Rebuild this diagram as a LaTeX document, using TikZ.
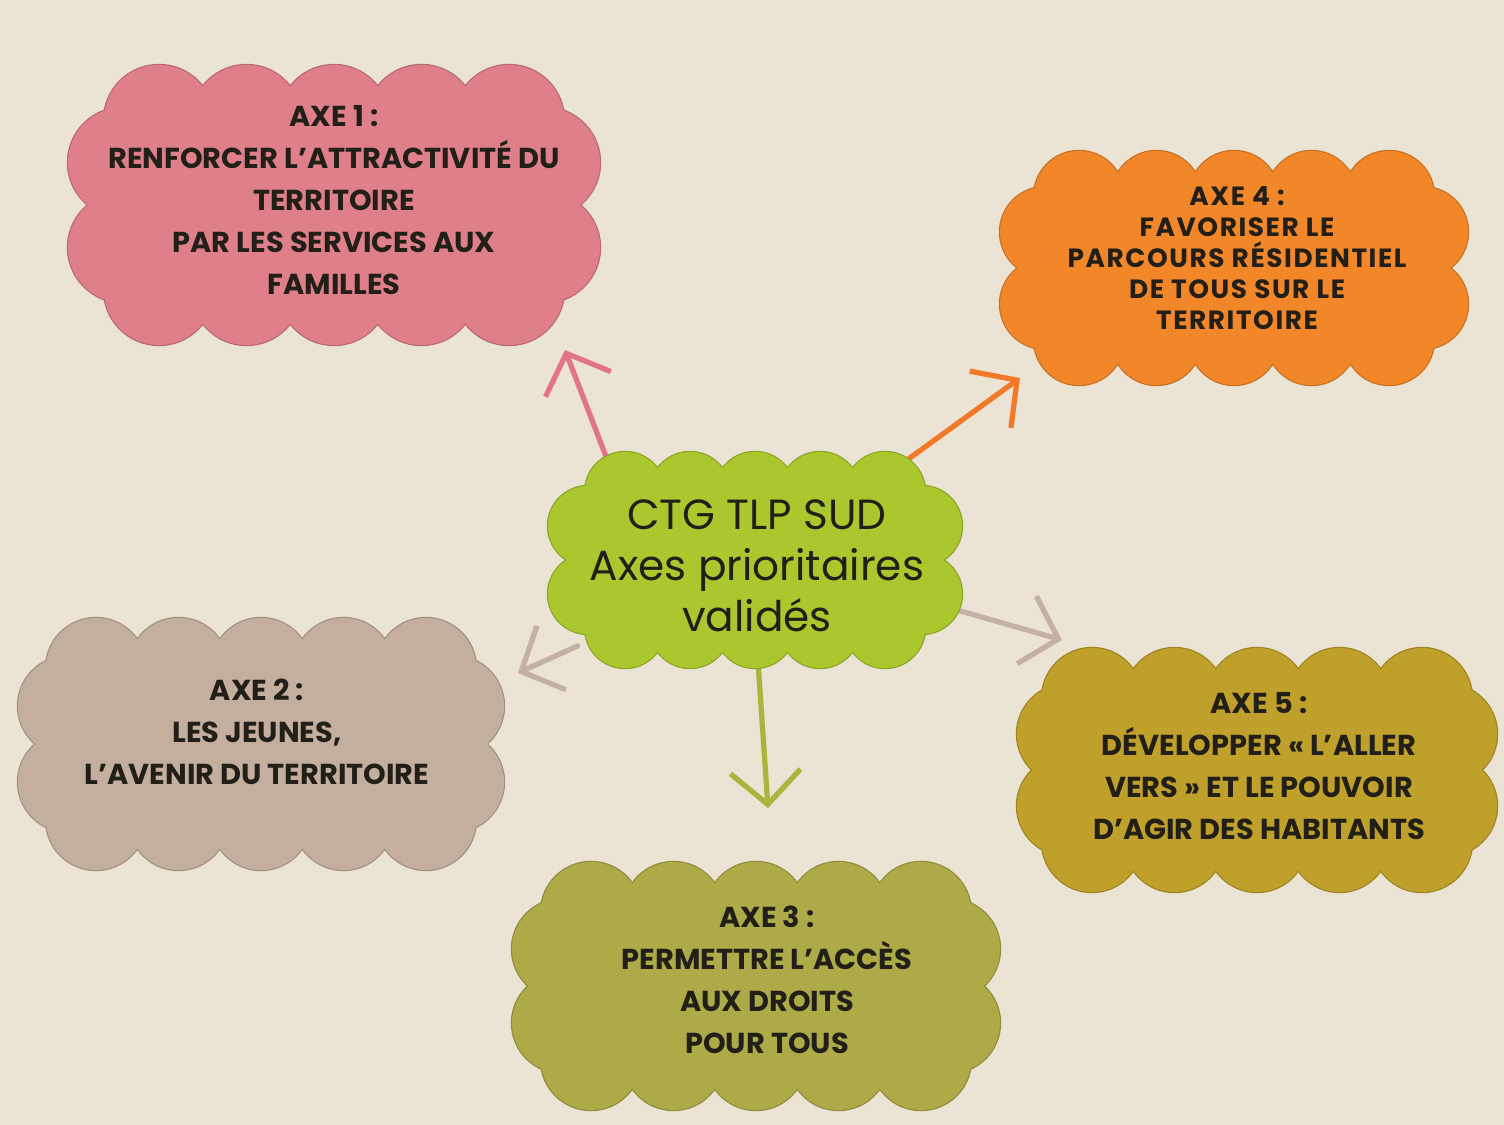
\documentclass[tikz,border=0pt]{standalone}
\usepackage{fontspec}
\newfontfamily\axefont{Poppins}
\newfontfamily\wideaxefont{Poppins}[LetterSpace=6]
\usetikzlibrary{arrows.meta}
\pgfdeclarelayer{back}
\pgfdeclarelayer{links}
\pgfsetlayers{back,links,main}
\definecolor{paper}{HTML}{EBE4D5}
\definecolor{ink}{HTML}{221E18}
\definecolor{rose}{HTML}{DF7F8A}
\definecolor{orangec}{HTML}{F2872A}
\definecolor{ctggreen}{HTML}{AAC82E}
\definecolor{taupec}{HTML}{C4AF9F}
\definecolor{moutarde}{HTML}{BFA02A}
\definecolor{olivec}{HTML}{ADAA48}

\begin{document}
\begin{tikzpicture}[x=0.01cm,y=-0.01cm,
	axe/.style={align=center,text=ink,font=\axefont\bfseries\fontsize{8.2}{11.9}\selectfont},
	link/.style={line width=1.5pt,line cap=round,-{Straight Barb[length=3.3mm,width=7mm]}}]
	\begin{pgfonlayer}{back}
		\fill[paper] (0,0) rectangle (1504,1125);
	\end{pgfonlayer}
	% clouds: centre, half widths, side offset, puff radius, colour
	\foreach \cx/\cy/\a/\b/\s/\r/\c in {334/205/175/85/211/55/rose,
		1234/268/155/72/189/45/orangec, 755/560/130/68/167/40/ctggreen,
		261/744/165/76/193/50/taupec, 1257/770/165/72/190/50/moutarde,
		756/986/165/74/194/50/olivec}
	\foreach \col/\dr in {\c!82!black/1.2,\c/0}{
		\fill[\col] (\cx-\a,\cy-\b) rectangle (\cx+\a,\cy+\b);
		\fill[\col] (\cx-\s,\cy-\b/2) rectangle (\cx+\s,\cy+\b/2);
		\foreach \i in {-2,...,2}
			\fill[\col] (\cx+\i*\a/2,\cy-\b) circle (\r+\dr) (\cx+\i*\a/2,\cy+\b) circle (\r+\dr);
		\foreach \j in {-1,1}
			\fill[\col] (\cx+\j*\s,\cy-\b/2) circle (\r+\dr) (\cx+\j*\s,\cy+\b/2) circle (\r+\dr);
	}
	\node[axe] (ax1) at (334,200) {AXE 1 :\\RENFORCER L’ATTRACTIVITÉ DU\\TERRITOIRE\\PAR LES SERVICES AUX\\FAMILLES};
	\node[axe,font=\wideaxefont\bfseries\fontsize{7.5}{8.8}\selectfont] (ax4) at (1237,258) {AXE 4 :\\FAVORISER LE\\PARCOURS RÉSIDENTIEL\\DE TOUS SUR LE\\TERRITOIRE};
	\node[minimum width=3.4cm,minimum height=1.6cm,align=center,text=ink,font=\axefont\fontsize{12}{14.5}\selectfont] (ctg) at (757,566) {CTG TLP SUD\\Axes prioritaires\\validés};
	\node[axe] (ax2) at (257,732) {AXE 2 :\\LES JEUNES,\\L’AVENIR DU TERRITOIRE};
	\node[axe] (ax5) at (1259,766) {AXE 5 :\\DÉVELOPPER « L’ALLER\\VERS » ET LE POUVOIR\\D’AGIR DES HABITANTS};
	\node[axe] (ax3) at (767,980) {AXE 3 :\\PERMETTRE L’ACCÈS\\AUX DROITS\\POUR TOUS};
	\coordinate (p1) at (565,350);
	\coordinate (p4) at (1020,378);
	\coordinate (p2) at (518,673);
	\coordinate (p5) at (1062,640);
	\coordinate (p3) at (768,808);
	\begin{pgfonlayer}{links}
		\draw[link,draw={rgb,255:red,226;green,116;blue,136}] (ctg.150) -- (p1);
		\draw[link,draw={rgb,255:red,240;green,122;blue,42}] (ctg.35) -- (p4);
		\draw[link,draw={rgb,255:red,196;green,176;blue,164}] (ctg.204) -- (p2);
		\draw[link,draw={rgb,255:red,196;green,176;blue,164}] (ctg.-12) -- (p5);
		\draw[link,draw={rgb,255:red,172;green,180;blue,62}] (ctg.south) -- (p3);
	\end{pgfonlayer}
\end{tikzpicture}
\end{document}
